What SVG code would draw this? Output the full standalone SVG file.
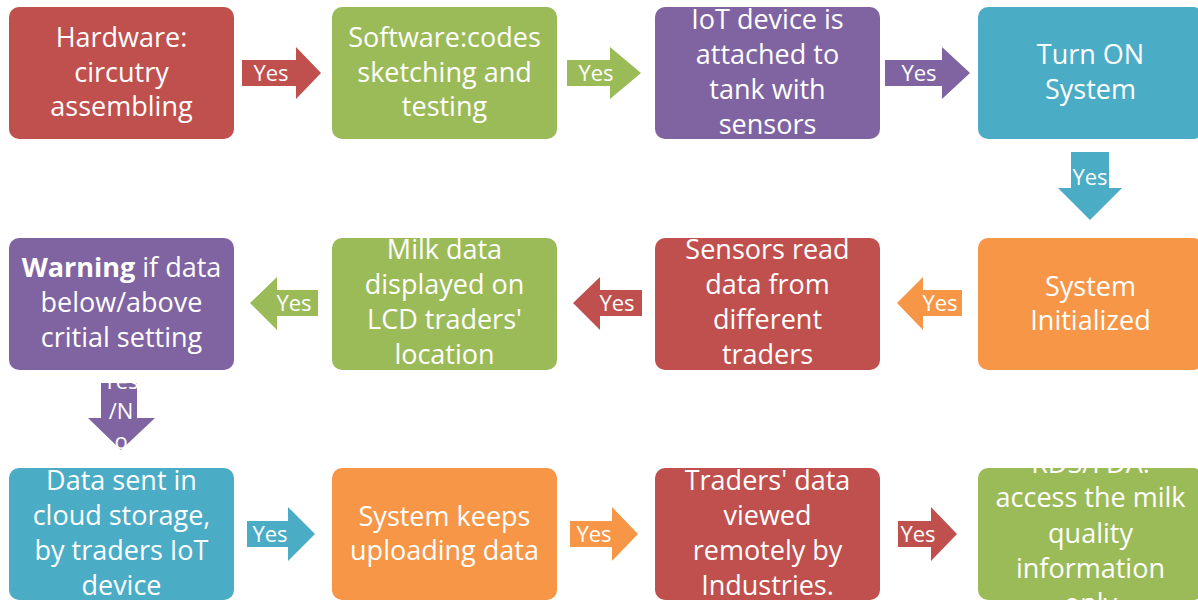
<svg xmlns="http://www.w3.org/2000/svg" width="1198" height="602" viewBox="0 0 1198 602">
<style>
.t{font-family:"Open Sans","Noto Sans",sans-serif;font-size:27px;fill:#fff;text-anchor:middle}
.y{font-family:"Open Sans","Noto Sans",sans-serif;font-size:22px;fill:#fff;text-anchor:middle}
.r{fill:#C0504D}.g{fill:#9BBB59}.p{fill:#8064A2}.b{fill:#4BACC6}.o{fill:#F79646}
</style>
<rect width="1198" height="602" fill="#fff"/>
<g id="connectors">
<polygon class="r" points="242,60 296,60 296,47 321,73 296,99 296,86 242,86"/>
<text class="y" x="271" y="81">Yes</text>
<polygon class="g" points="567,60 610,60 610,47 641,73 610,99 610,86 567,86"/>
<text class="y" x="596" y="81">Yes</text>
<polygon class="p" points="885,60 942,60 942,47 970,73 942,99 942,86 885,86"/>
<text class="y" x="919" y="81">Yes</text>
<polygon class="b" points="1071,152 1109,152 1109,188 1122,188 1090,220 1058,188 1071,188"/>
<text class="y" x="1090" y="185">Yes</text>
<polygon class="o" points="962,290 923,290 923,277 897,303 923,330 923,316 962,316"/>
<text class="y" x="940" y="311">Yes</text>
<polygon class="r" points="642,290 600,290 600,277 573,303 600,330 600,316 642,316"/>
<text class="y" x="617" y="311">Yes</text>
<polygon class="g" points="318,290 277,290 277,277 250,303 277,330 277,316 318,316"/>
<text class="y" x="294" y="311">Yes</text>
<polygon class="p" points="101,383 137,383 137,418 155,418 121,450 88,418 101,418"/>
<text class="y" x="121" y="389">Yes</text>
<text class="y" x="121" y="419">/N</text>
<text class="y" x="121" y="449">o</text>
<polygon class="b" points="247,521 288,521 288,507 315,534 288,561 288,547 247,547"/>
<text class="y" x="270" y="542">Yes</text>
<polygon class="o" points="570,521 612,521 612,507 638,534 612,561 612,547 570,547"/>
<text class="y" x="594" y="542">Yes</text>
<polygon class="r" points="898,521 931,521 931,507 957,534 931,561 931,547 898,547"/>
<text class="y" x="918" y="542">Yes</text>
</g>
<g id="n1"><rect class="r" x="9" y="7" width="225" height="132" rx="10"/>
<text class="t" x="121.5" y="47">Hardware:</text><text class="t" x="121.5" y="82">circutry</text><text class="t" x="121.5" y="116">assembling</text></g>
<g id="n2"><rect class="g" x="332" y="7" width="225" height="132" rx="10"/>
<text class="t" x="444.5" y="47">Software:codes</text><text class="t" x="444.5" y="82">sketching and</text><text class="t" x="444.5" y="116">testing</text></g>
<g id="n3"><rect class="p" x="655" y="7" width="225" height="132" rx="10"/>
<text class="t" x="767.5" y="29">IoT device is</text><text class="t" x="767.5" y="64">attached to</text><text class="t" x="767.5" y="99">tank with</text><text class="t" x="767.5" y="134">sensors</text></g>
<g id="n4"><rect class="b" x="978" y="7" width="225" height="132" rx="10"/>
<text class="t" x="1090.5" y="64">Turn ON</text><text class="t" x="1090.5" y="99">System</text></g>
<g id="n5"><rect class="p" x="9" y="238" width="225" height="132" rx="10"/>
<text class="t" x="121.5" y="277"><tspan font-weight="bold">Warning</tspan> if data</text><text class="t" x="121.5" y="312">below/above</text><text class="t" x="121.5" y="347">critial setting</text></g>
<g id="n6"><rect class="g" x="332" y="238" width="225" height="132" rx="10"/>
<text class="t" x="444.5" y="259">Milk data</text><text class="t" x="444.5" y="294">displayed on</text><text class="t" x="444.5" y="329">LCD traders'</text><text class="t" x="444.5" y="364">location</text></g>
<g id="n7"><rect class="r" x="655" y="238" width="225" height="132" rx="10"/>
<text class="t" x="767.5" y="259">Sensors read</text><text class="t" x="767.5" y="294">data from</text><text class="t" x="767.5" y="329">different</text><text class="t" x="767.5" y="364">traders</text></g>
<g id="n8"><rect class="o" x="978" y="238" width="225" height="132" rx="10"/>
<text class="t" x="1090.5" y="296">System</text><text class="t" x="1090.5" y="330">Initialized</text></g>
<g id="n9"><rect class="b" x="9" y="468" width="225" height="132" rx="10"/>
<text class="t" x="121.5" y="490">Data sent in</text><text class="t" x="121.5" y="525">cloud storage,</text><text class="t" x="121.5" y="560">by traders IoT</text><text class="t" x="121.5" y="595">device</text></g>
<g id="n10"><rect class="o" x="332" y="468" width="225" height="132" rx="10"/>
<text class="t" x="444.5" y="526">System keeps</text><text class="t" x="444.5" y="560">uploading data</text></g>
<g id="n11"><rect class="r" x="655" y="468" width="225" height="132" rx="10"/>
<text class="t" x="767.5" y="490">Traders' data</text><text class="t" x="767.5" y="525">viewed</text><text class="t" x="767.5" y="560">remotely by</text><text class="t" x="767.5" y="595">Industries.</text></g>
<g id="n12"><rect class="g" x="978" y="468" width="225" height="132" rx="10"/>
<text class="t" x="1090.5" y="473">RDS/FDA:</text><text class="t" x="1090.5" y="507">access the milk</text><text class="t" x="1090.5" y="543">quality</text><text class="t" x="1090.5" y="578">information</text><text class="t" x="1090.5" y="613">only</text></g>
</svg>
